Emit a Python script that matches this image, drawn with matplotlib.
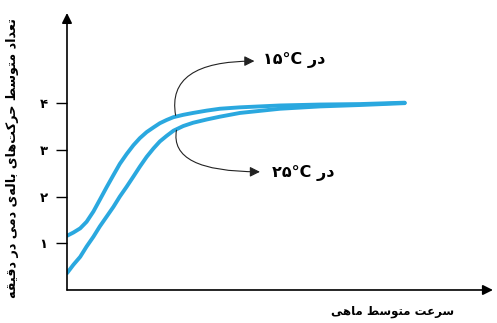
import numpy as np
import matplotlib
matplotlib.use("Agg")
import matplotlib.pyplot as plt

plt.rcParams["font.family"] = ["DejaVu Sans"]

# سرعت متوسط ماهی (محور افقی) و تعداد حرکت باله (محور عمودی)
speed_15 = [0.0, 0.15, 0.31, 0.46, 0.62, 0.77, 0.93, 1.09, 1.24, 1.40, 1.56, 1.71, 1.87, 2.03,
            2.18, 2.34, 2.50, 2.73, 2.96, 3.28, 3.59, 4.06, 5.00, 5.94, 6.88, 7.93]
beats_15 = [1.16, 1.23, 1.32, 1.46, 1.68, 1.93, 2.20, 2.46, 2.70, 2.91, 3.10, 3.25, 3.38, 3.48,
            3.57, 3.64, 3.70, 3.75, 3.79, 3.84, 3.88, 3.91, 3.95, 3.97, 3.98, 4.01]
speed_25 = [0.0, 0.15, 0.31, 0.46, 0.62, 0.77, 0.93, 1.09, 1.24, 1.40, 1.56, 1.71, 1.87, 2.03,
            2.18, 2.34, 2.50, 2.73, 2.96, 3.28, 3.59, 4.06, 5.00, 5.94, 6.88, 7.93]
beats_25 = [0.36, 0.54, 0.71, 0.93, 1.14, 1.36, 1.57, 1.78, 2.00, 2.21, 2.43, 2.64, 2.85, 3.03,
            3.18, 3.30, 3.41, 3.51, 3.58, 3.65, 3.71, 3.79, 3.88, 3.93, 3.96, 4.00]
yticks = [1, 2, 3, 4]
ytick_labels = ["۱", "۲", "۳", "۴"]

ylabel = "تعداد متوسط حرکت\u200cهای باله\u200cی دمی در دقیقه"
xlabel = "سرعت متوسط ماهی"

# شکل‌دهی ساده حروف فارسی (matplotlib خودش حروف را به هم نمی‌چسباند)
FORMS = {
    'ا': ('\uFE8D', '\uFE8E', None, None),
    'ب': ('\uFE8F', '\uFE90', '\uFE91', '\uFE92'),
    'ت': ('\uFE95', '\uFE96', '\uFE97', '\uFE98'),
    'ح': ('\uFEA1', '\uFEA2', '\uFEA3', '\uFEA4'),
    'د': ('\uFEA9', '\uFEAA', None, None),
    'ر': ('\uFEAD', '\uFEAE', None, None),
    'س': ('\uFEB1', '\uFEB2', '\uFEB3', '\uFEB4'),
    'ط': ('\uFEC1', '\uFEC2', '\uFEC3', '\uFEC4'),
    'ع': ('\uFEC9', '\uFECA', '\uFECB', '\uFECC'),
    'ق': ('\uFED5', '\uFED6', '\uFED7', '\uFED8'),
    'ل': ('\uFEDD', '\uFEDE', '\uFEDF', '\uFEE0'),
    'م': ('\uFEE1', '\uFEE2', '\uFEE3', '\uFEE4'),
    'ن': ('\uFEE5', '\uFEE6', '\uFEE7', '\uFEE8'),
    'ه': ('\uFEE9', '\uFEEA', '\uFEEB', '\uFEEC'),
    'و': ('\uFEED', '\uFEEE', None, None),
    'ک': ('\uFB8E', '\uFB8F', '\uFB90', '\uFB91'),
    'ی': ('\uFBFC', '\uFBFD', '\uFBFE', '\uFBFF'),
}


def shape(text):
    out = []
    for i, ch in enumerate(text):
        if ch not in FORMS:
            out.append(ch)
            continue
        iso, fin, ini, med = FORMS[ch]
        prev = text[i - 1] if i > 0 else ''
        nxt = text[i + 1] if i + 1 < len(text) else ''
        jp = prev in FORMS and FORMS[prev][2] is not None
        jn = ini is not None and nxt in FORMS
        if jp and jn:
            out.append(med)
        elif jp:
            out.append(fin)
        elif jn:
            out.append(ini)
        else:
            out.append(iso)
    return ''.join(reversed(out)).replace('\u200c', '')


fig = plt.figure(figsize=(4.97, 3.23), dpi=100)
ax = fig.add_axes([0.1348, 0.1022, 0.857, 0.8576])
ax.set_xlim(0, 10)
ax.set_ylim(0, 5.93)

blue = '#2AA8DF'
ax.plot(speed_15, beats_15, color=blue, lw=2.8, solid_capstyle='round', solid_joinstyle='round')
ax.plot(speed_25, beats_25, color=blue, lw=2.8, solid_capstyle='round', solid_joinstyle='round')

# محورها با پیکان
for s in ['top', 'right', 'left', 'bottom']:
    ax.spines[s].set_visible(False)
ax.annotate('', xy=(1.0, 0), xytext=(0, 0), xycoords='axes fraction',
            arrowprops=dict(arrowstyle='-|>,head_length=0.6,head_width=0.3', color='black', lw=1.2, shrinkA=0, shrinkB=0))
ax.annotate('', xy=(0, 1.0), xytext=(0, 0), xycoords='axes fraction',
            arrowprops=dict(arrowstyle='-|>,head_length=0.6,head_width=0.3', color='black', lw=1.2, shrinkA=0, shrinkB=0))

ax.set_xticks([])
ax.set_yticks(yticks)
ax.set_yticklabels(ytick_labels, fontsize=9.5, fontweight='bold')
ax.tick_params(axis='y', length=8, width=1, pad=6)

fig.text(0.025, 0.51, shape(ylabel), rotation=90, ha='center', va='center',
         fontsize=9.2, fontweight='bold')
fig.text(0.79, 0.035, shape(xlabel), ha='center', va='center',
         fontsize=8.5, fontweight='bold')

# پیکان‌های توضیح دما
ax.annotate('', xy=(4.4, 4.90), xytext=(2.55, 3.74),
            arrowprops=dict(arrowstyle='-|>,head_length=0.6,head_width=0.3', color='#222222', lw=0.8,
                            connectionstyle='angle3,angleA=100,angleB=0', shrinkA=0, shrinkB=0))
ax.annotate('', xy=(4.53, 2.53), xytext=(2.57, 3.42),
            arrowprops=dict(arrowstyle='-|>,head_length=0.6,head_width=0.3', color='#222222', lw=0.8,
                            connectionstyle='angle3,angleA=-100,angleB=0', shrinkA=0, shrinkB=0))
ax.text(4.6, 4.93, '۱۵°C ' + shape('در'), ha='left', va='center', fontsize=11.5, fontweight='bold')
ax.text(4.82, 2.51, '۲۵°C ' + shape('در'), ha='left', va='center', fontsize=11.5, fontweight='bold')

fig.savefig('out.png', dpi=100)
